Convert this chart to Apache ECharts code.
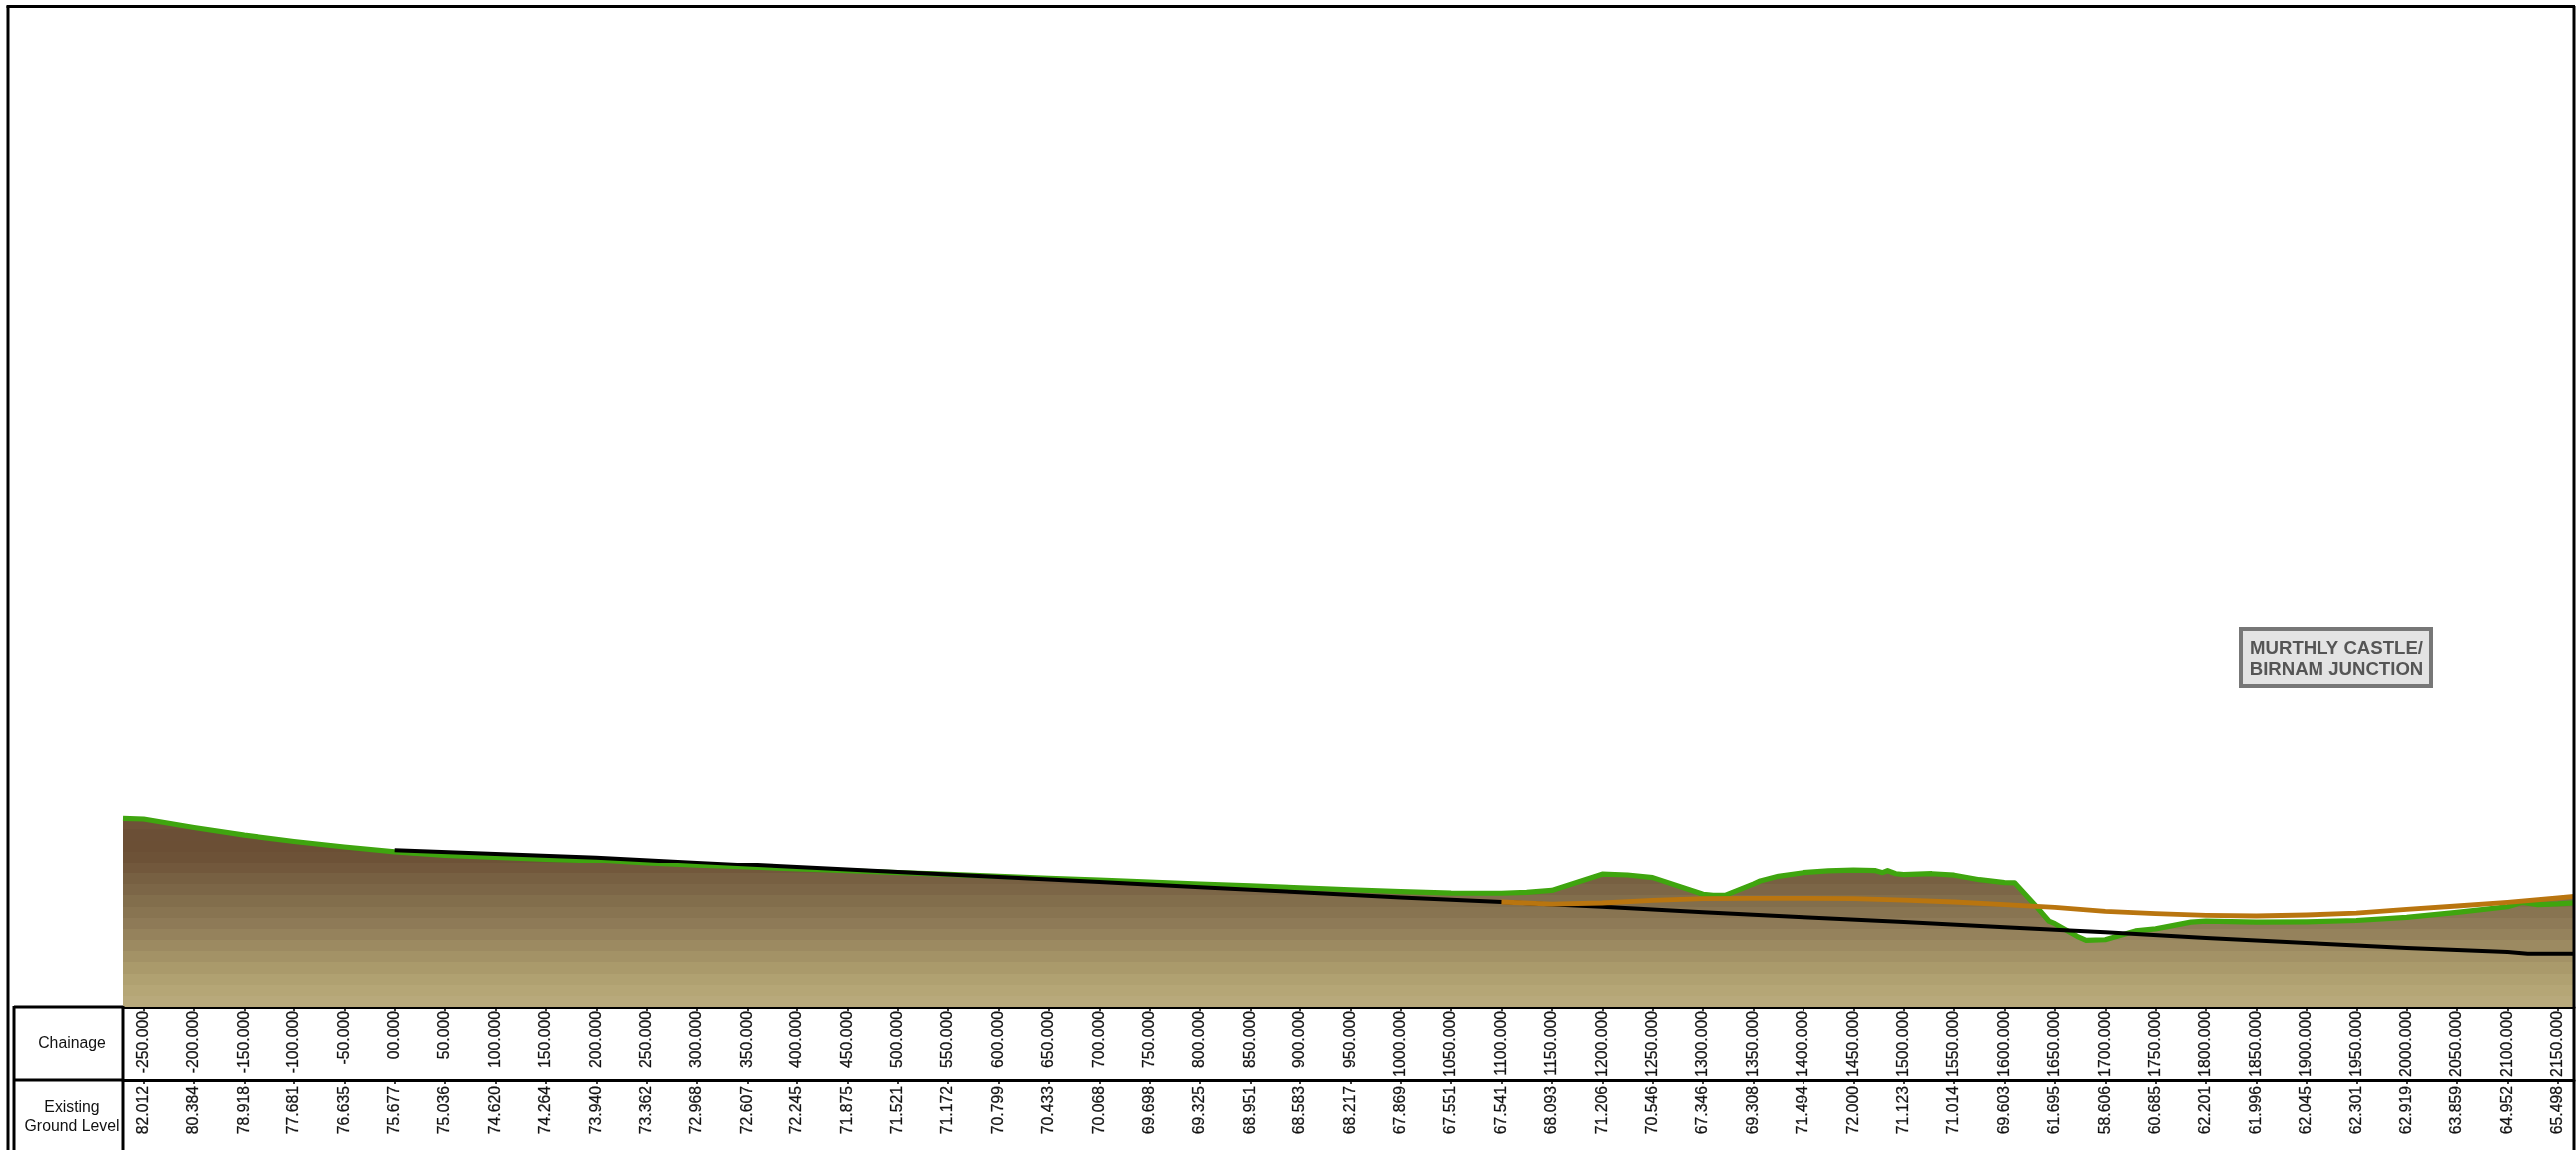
<!DOCTYPE html>
<html>
<head>
<meta charset="utf-8">
<style>html,body{margin:0;padding:0;background:#fff}#c{width:2581px;height:1152px}</style>
<script src="https://cdn.jsdelivr.net/npm/echarts@6/dist/echarts.min.js"></script>
</head>
<body>
<div id="c"></div>
<script>
var chainages = [-250,-200,-150,-100,-50,0,50,100,150,200,250,300,350,400,450,500,550,600,650,700,750,800,850,900,950,1000,1050,1100,1150,1200,1250,1300,1350,1400,1450,1500,1550,1600,1650,1700,1750,1800,1850,1900,1950,2000,2050,2100,2150];
var chainageLabels = ["-250.000","-200.000","-150.000","-100.000","-50.000","00.000","50.000","100.000","150.000","200.000","250.000","300.000","350.000","400.000","450.000","500.000","550.000","600.000","650.000","700.000","750.000","800.000","850.000","900.000","950.000","1000.000","1050.000","1100.000","1150.000","1200.000","1250.000","1300.000","1350.000","1400.000","1450.000","1500.000","1550.000","1600.000","1650.000","1700.000","1750.000","1800.000","1850.000","1900.000","1950.000","2000.000","2050.000","2100.000","2150.000"];
var groundLabels = ["82.012","80.384","78.918","77.681","76.635","75.677","75.036","74.620","74.264","73.940","73.362","72.968","72.607","72.245","71.875","71.521","71.172","70.799","70.433","70.068","69.698","69.325","68.951","68.583","68.217","67.869","67.551","67.541","68.093","71.206","70.546","67.346","69.308","71.494","72.000","71.123","71.014","69.603","61.695","58.606","60.685","62.201","61.996","62.045","62.301","62.919","63.859","64.952","65.498"];

var groundX = [-270.5,-250,-200,-150,-100,-50,0,50,100,150,200,250,300,350,400,450,500,550,600,650,700,750,800,850,900,950,1000,1050,1100,1125,1150,1170,1200,1225,1250,1300,1310,1322,1350,1357,1375,1400,1425,1450,1472,1479,1484,1492,1500,1528,1550,1575,1600,1610,1630,1644,1650,1672,1681,1700,1730,1750,1785,1800,1850,1900,1950,2000,2050,2100,2115,2130,2150,2166];
var groundY = [82.15,82.012,80.384,78.918,77.681,76.635,75.677,75.036,74.62,74.264,73.94,73.362,72.968,72.607,72.245,71.875,71.521,71.172,70.799,70.433,70.068,69.698,69.325,68.951,68.583,68.217,67.869,67.551,67.541,67.7,68.093,69.32,71.206,71.05,70.546,67.346,67.12,67.15,69.308,69.9,70.8,71.494,71.85,72,71.88,71.5,71.88,71.3,71.123,71.3,71.014,70.15,69.603,69.55,65.35,62.2,61.695,59.26,58.5,58.606,60.3,60.685,62,62.201,61.996,62.045,62.301,62.919,63.859,64.952,65.8,65.35,65.498,65.7];

var railX = [0,100,200,300,400,500,600,700,800,900,1000,1100,1200,1300,1400,1500,1600,1700,1800,1900,2000,2100,2120,2166];
var railY = [76.0,75.28,74.58,73.55,72.59,71.63,70.67,69.7,68.68,67.72,66.75,65.86,64.96,63.87,62.91,62.01,60.99,60.03,58.93,57.97,57.01,56.24,55.92,55.92];

var proposedX = [1100,1150,1200,1250,1300,1350,1400,1450,1500,1550,1600,1650,1700,1750,1800,1850,1900,1950,2000,2050,2100,2150,2166];
var proposedY = [65.86,65.47,65.67,66.18,66.5,66.56,66.56,66.5,66.24,65.86,65.34,64.83,64.06,63.61,63.29,63.17,63.36,63.74,64.45,65.09,65.79,66.63,66.95];

var stationLines = ["MURTHLY CASTLE/", "BIRNAM JUNCTION"];
var X_MIN = -270.5, X_MAX = 2166, Y_MIN = 45.67, Y_MAX = 238.55;

function zip(xs, ys) { return xs.map(function (x, i) { return [x, ys[i]]; }); }

var fillTop = zip(groundX, groundY).filter(function (p) { return p[0] <= 2100; })
  .concat(zip(proposedX, proposedY).filter(function (p) { return p[0] >= 2100; }));

// banded earth gradient: one colour per band, darkest at the top
var bandColors = ['#6e5238','#6b4f36','#6b4f35','#6d5237','#72583c','#776042','#7c6647','#826e4c','#887451','#8e7a57','#95825c','#9c8a61','#a39266','#aa9a6b','#b0a171','#b5a676','#b8a97b'];
var stops = [];
bandColors.forEach(function (c, b) {
  stops.push({ offset: b / bandColors.length, color: c }, { offset: (b + 1) / bandColors.length, color: c });
});

function xAxisFor(gridIndex, labels, margin) {
  return {
    gridIndex: gridIndex, type: 'value', min: X_MIN, max: X_MAX, position: 'bottom',
    splitLine: { show: false },
    axisLine: { show: true, onZero: false, lineStyle: { color: '#000', width: 3 } },
    axisTick: { show: true, customValues: chainages, length: 4, inside: false, lineStyle: { color: '#000', width: 1.5 } },
    axisLabel: {
      show: true, customValues: chainages, rotate: 90, margin: margin, hideOverlap: false,
      fontFamily: 'Liberation Sans', fontSize: 15.8, color: '#111', textBorderColor: '#111', textBorderWidth: 0.25,
      formatter: function (v) { return labels[chainages.indexOf(v)]; }
    }
  };
}
function vline(x, y1, y2, w) { return { type: 'line', silent: true, z: 50, shape: { x1: x, y1: y1, x2: x, y2: y2 }, style: { stroke: '#000', lineWidth: w } }; }
function hline(x1, x2, y, w) { return { type: 'line', silent: true, z: 50, shape: { x1: x1, y1: y, x2: x2, y2: y }, style: { stroke: '#000', lineWidth: w } }; }
function label(text, x, y, size, color, weight) {
  return { type: 'text', silent: true, z: 60, x: x, y: y, style: { text: text, fill: color || '#111', font: (weight || 'normal') + ' ' + size + 'px "Liberation Sans"', textAlign: 'center', textVerticalAlign: 'middle' } };
}
function lineSeries(name, xs, ys, color, width, z) {
  return { name: name, type: 'line', data: zip(xs, ys), showSymbol: false, symbol: 'none', z: z, lineStyle: { color: color, width: width, join: 'round' }, xAxisIndex: 0, yAxisIndex: 0 };
}

var chart = echarts.init(document.getElementById('c'), null, { renderer: 'canvas' });
chart.setOption({
  animation: false,
  backgroundColor: '#ffffff',
  tooltip: { show: false },
  legend: { show: false },
  grid: [
    { left: 123, width: 2456, top: 6, height: 1003, containLabel: false },
    { left: 123, width: 2456, top: 1009, height: 73, containLabel: false }
  ],
  xAxis: [xAxisFor(0, chainageLabels, 4), xAxisFor(1, groundLabels, 6)],
  yAxis: [
    { gridIndex: 0, type: 'value', min: Y_MIN, max: Y_MAX, show: false, splitLine: { show: false } },
    { gridIndex: 1, type: 'value', min: 0, max: 1, show: false, splitLine: { show: false } }
  ],
  series: [
    { name: 'Earth', type: 'line', data: fillTop, showSymbol: false, symbol: 'none', z: 1,
      lineStyle: { width: 0 }, xAxisIndex: 0, yAxisIndex: 0,
      areaStyle: { opacity: 1, origin: 'start', color: { type: 'linear', x: 0, y: 0, x2: 0, y2: 1, colorStops: stops } } },
    lineSeries('Existing Ground Level', groundX, groundY, '#3fa50f', 5.2, 2),
    lineSeries('Existing Railway', railX, railY, '#000000', 4, 3),
    lineSeries('Proposed Level', proposedX, proposedY, '#b9750f', 4.8, 4)
  ],
  graphic: [
    hline(6.5, 2580, 6.5, 3),
    vline(8, 6, 1152, 3),
    vline(2579, 6, 1152, 3),
    hline(14, 123, 1009, 3),
    hline(14, 123, 1082, 3),
    vline(14, 1008, 1152, 3),
    vline(123, 1008, 1152, 3),
    label('Chainage', 72, 1046, 15.8),
    label('Existing', 72, 1110, 15.8),
    label('Ground Level', 72, 1129, 15.8),
    { type: 'rect', silent: true, z: 55, shape: { x: 2245, y: 630, width: 191, height: 57 }, style: { fill: '#e3e3e3', stroke: '#777777', lineWidth: 4 } },
    label(stationLines[0], 2341, 649.5, 18.6, '#555555', 'bold'),
    label(stationLines[1], 2341, 671, 18.6, '#555555', 'bold')
  ]
});
</script>
</body>
</html>
